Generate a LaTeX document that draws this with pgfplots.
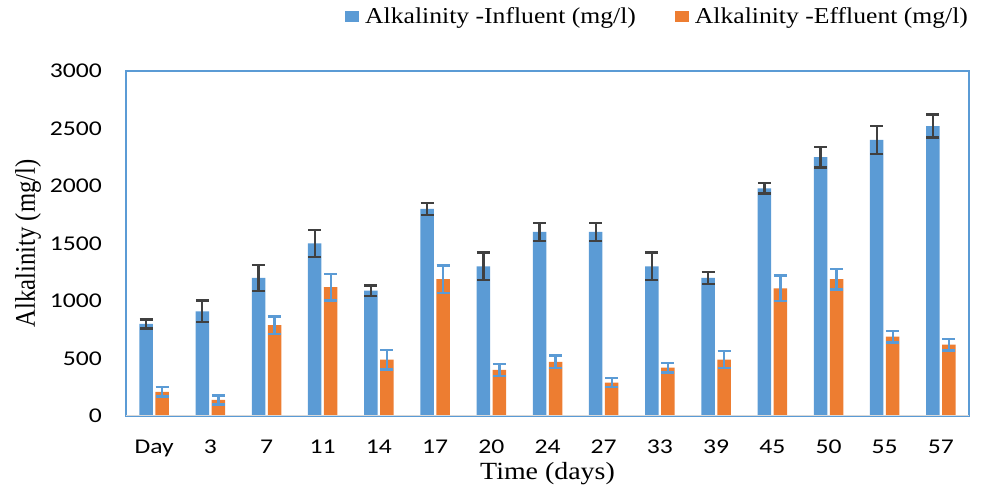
\documentclass[border=0pt]{standalone}
\usepackage{pgfplots}
\pgfplotsset{compat=1.18}
\usepackage{fontspec}
\setmainfont{Liberation Serif}
\newfontfamily\tickfont{Carlito}
\usepackage{graphicx}
\definecolor{cblue}{HTML}{5B9BD5}
\definecolor{corange}{HTML}{ED7D31}
\definecolor{cgray}{HTML}{404040}
\definecolor{caxis}{HTML}{D9D9D9}
\newcommand{\sx}[1]{\scalebox{1.22}[1]{#1}}
\newcommand{\lx}[1]{\scalebox{1.13}[1]{#1}}
\pgfplotstableread{
x y e
0 800 40
1 910 95
2 1200 115
3 1500 115
4 1090 45
5 1800 50
6 1300 120
7 1600 80
8 1600 80
9 1300 120
10 1200 50
11 1980 45
12 2250 90
13 2400 120
14 2520 100
}\influent
\pgfplotstableread{
x y e
0 210 40
1 140 40
2 790 75
3 1120 115
4 490 85
5 1190 120
6 400 50
7 470 55
8 290 40
9 420 40
10 490 75
11 1110 110
12 1190 90
13 690 50
14 620 50
}\effluent
\begin{document}
\begin{tikzpicture}
\begin{axis}[
  scale only axis, width=843bp, height=345bp,
  ybar=2.5bp, bar width=13.5bp,
  xmin=-0.5, xmax=14.5, ymin=0, ymax=3000,
  xtick={0,...,14},
  xticklabels={\sx{Day},\sx{3},\sx{7},\sx{11},\sx{14},\sx{17},\sx{20},\sx{24},\sx{27},\sx{33},\sx{39},\sx{45},\sx{50},\sx{55},\sx{57}},
  ytick={0,500,...,3000},
  yticklabel={\sx{\pgfmathprintnumber{\tick}}},
  /pgf/number format/assume math mode=true,
  /pgf/number format/1000 sep={},
  major tick length=0pt,
  axis line style={cblue, line width=1.5bp},
  every tick label/.append style={inner sep=0pt, font=\tickfont\fontsize{21bp}{21bp}\selectfont, text=black},
  xticklabel style={anchor=north, yshift=-23.5bp},
  yticklabel style={anchor=east, xshift=-24bp},
  xlabel={\lx{Time (days)}},
  ylabel={\scalebox{1}[1.15]{Alkalinity (mg/l)}},
  xlabel style={at={(axis description cs:0.5,-0.1855)}, anchor=base, font=\fontsize{24.7bp}{25bp}\selectfont, inner sep=0pt},
  ylabel style={at={(axis description cs:-0.108,0.5)}, anchor=base, font=\fontsize{24.7bp}{25bp}\selectfont, inner sep=0pt},
  legend columns=2,
  legend style={at={(axis description cs:0.2598,1.185)}, anchor=north west, draw=none, fill=none,
    inner sep=0pt, nodes={inner sep=0pt}, font=\fontsize{22.7bp}{23bp}\selectfont,
    /tikz/every odd column/.append style={column sep=6bp},
    /tikz/every even column/.append style={column sep=39bp}},
  legend image code/.code={\fill[#1] (0bp,-5.5bp) rectangle (14bp,5.5bp);},
  error bars/y dir=both, error bars/y explicit,
]
\addplot[fill=cblue, draw=none,
  error bars/error bar style={cgray, line width=2.4bp},
  error bars/error mark options={cgray, line width=2.4bp, rotate=90, mark size=6.5bp}]
  table[x=x, y=y, y error=e]{\influent};
\addlegendentry{\lx{Alkalinity -Influent (mg/l)}}
\addplot[fill=corange, draw=none,
  error bars/error bar style={cblue, line width=2.4bp},
  error bars/error mark options={cblue, line width=2.4bp, rotate=90, mark size=6.5bp}]
  table[x=x, y=y, y error=e]{\effluent};
\addlegendentry{\lx{Alkalinity -Effluent (mg/l)}}
\draw[caxis, line width=2bp] (rel axis cs:0,0) -- (rel axis cs:1,0);
\end{axis}
\pgfresetboundingbox
\path[use as bounding box] (-126bp,-76bp) rectangle (855bp,416bp);
\end{tikzpicture}
\end{document}
